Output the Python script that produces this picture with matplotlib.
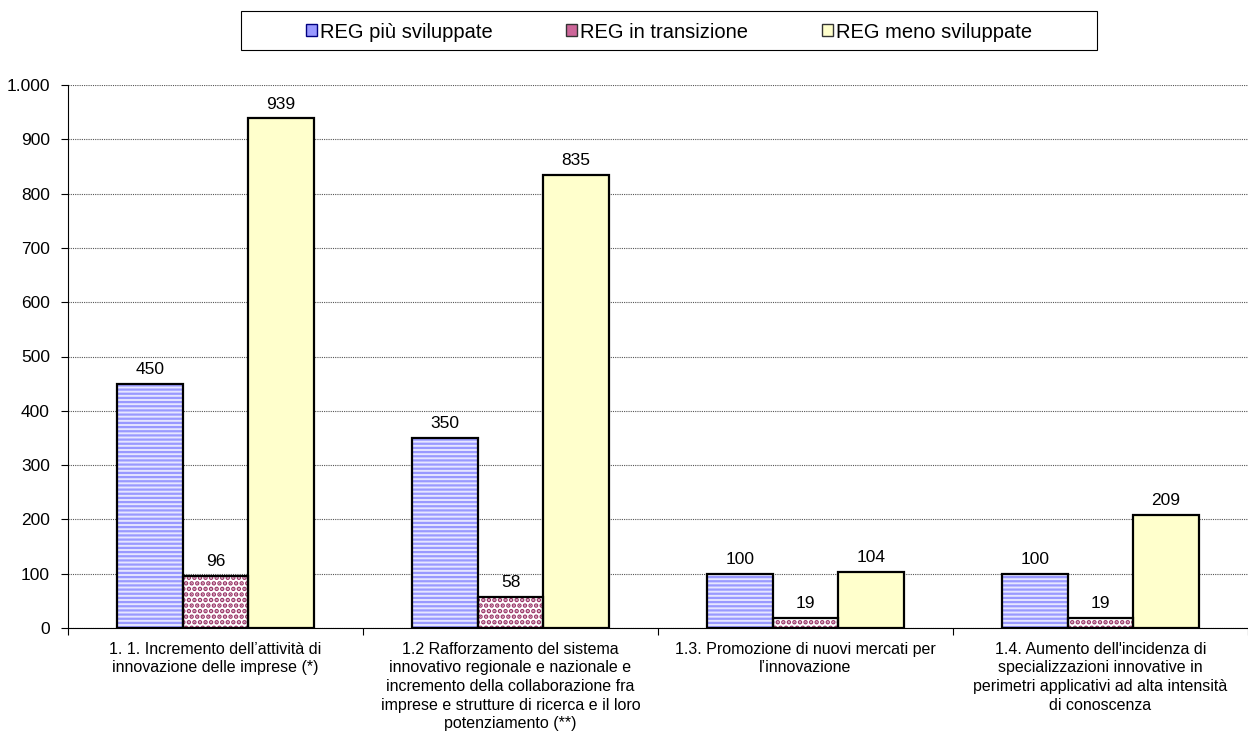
import numpy as np
import matplotlib.pyplot as plt
from matplotlib.ticker import FuncFormatter, MultipleLocator
from matplotlib.patches import Patch, Rectangle

plt.rcParams['font.family'] = ['Liberation Sans', 'DejaVu Sans']

categories = [
    "1. 1. Incremento dell\u2019attivit\u00e0 di\ninnovazione delle imprese (*)",
    "1.2 Rafforzamento del sistema\ninnovativo regionale e nazionale e\nincremento della collaborazione fra\nimprese e strutture di ricerca e il loro\npotenziamento (**)",
    "1.3. Promozione di nuovi mercati per\nl\u2019innovazione",
    "1.4. Aumento dell'incidenza di\nspecializzazioni innovative in\nperimetri applicativi ad alta intensit\u00e0\ndi conoscenza",
]
series = ["REG pi\u00f9 sviluppate", "REG in transizione", "REG meno sviluppate"]
piu = [450, 350, 100, 100]
transizione = [96, 58, 19, 19]
meno = [939, 835, 104, 209]

W, H = 1248, 738
fig = plt.figure(figsize=(W / 100, H / 100), dpi=100)
ax = fig.add_axes([68 / W, (738 - 628) / H, (1248 - 68) / W, (628 - 85) / H])

x = np.arange(len(categories))
bw = 0.222
styles = [
    dict(face='#e6e6ff', hatch='----', hc='#9999ff', hlw=1.6),
    dict(face='white', hatch='...', hc='#993366', hlw=2.3),
    dict(face='#ffffcc', hatch=None, hc='#ffffcc', hlw=1.0),
]
for i, (vals, st) in enumerate(zip([piu, transizione, meno], styles)):
    pos = x + (i - 1) * bw
    with plt.rc_context({'hatch.linewidth': st['hlw']}):
        ax.bar(pos, vals, bw, color=st['face'], hatch=st['hatch'],
               edgecolor=st['hc'], linewidth=0, zorder=2)
    ax.bar(pos, vals, bw, facecolor='none', edgecolor='black',
           linewidth=1.6, zorder=3)
    for p, v in zip(pos, vals):
        ax.text(p, v + 12, str(v), ha='center', va='bottom', fontsize=12.5)

# legend box drawn separately so it can be wider than its entries
fig.patches.append(Rectangle((241 / W, 1 - 50 / H), (1097 - 241) / W, 39 / H,
                             transform=fig.transFigure, facecolor='white',
                             edgecolor='black', linewidth=0.8))
handles = [
    Patch(facecolor='#9999ff', edgecolor='#000080', linewidth=1),
    Patch(facecolor='#cc6699', edgecolor='#333333', linewidth=1),
    Patch(facecolor='#ffffcc', edgecolor='#333333', linewidth=1),
]
leg = fig.legend(handles, series, loc='center', bbox_to_anchor=(669 / W, 1 - 32 / H),
                 ncol=3, fontsize=14.5, frameon=False,
                 handlelength=0.55, handleheight=0.55, handletextpad=0.15,
                 columnspacing=3.65, borderpad=0.4)

ax.set_ylim(0, 1000)
ax.set_xlim(-0.5, -0.5 + (1248 - 68) / 297)
ax.yaxis.set_major_locator(MultipleLocator(100))
ax.yaxis.set_major_formatter(FuncFormatter(lambda v, p: f"{int(v):,}".replace(',', '.')))
ax.yaxis.grid(True, linestyle=(0, (1, 1)), color='#555555', linewidth=0.8, zorder=0)
ax.set_axisbelow(True)

ax.set_xticks(x)
ax.set_xticklabels(categories, fontsize=11.5, linespacing=1.3)
ax.tick_params(axis='x', length=0, pad=10)
ax.set_xticks(np.arange(len(categories) + 1) - 0.5, minor=True)
ax.tick_params(axis='x', which='minor', length=5, direction='out', width=0.8)
ax.tick_params(axis='y', length=5, width=0.8, labelsize=12.5, pad=8)

for s in ['top', 'right']:
    ax.spines[s].set_visible(False)
ax.spines['left'].set_linewidth(0.8)
ax.spines['bottom'].set_linewidth(0.8)

fig.savefig('out.png', dpi=100)
